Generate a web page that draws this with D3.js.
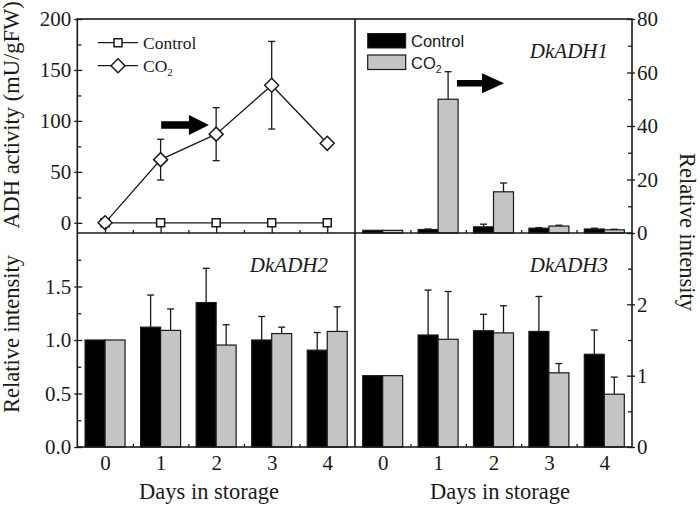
<!DOCTYPE html>
<html><head><meta charset="utf-8">
<script src="https://cdn.jsdelivr.net/npm/d3@7/dist/d3.min.js"></script>
<style>body{margin:0;background:#fff;} svg{display:block;}</style>
</head><body><svg id="c" width="700" height="507"></svg>
<script>
// ---------- data ----------
const days = [0, 1, 2, 3, 4];
const dayTicks = ["0", "1", "2", "3", "4"];
// ADH activity (mU/gFW)
const adhControl = [0, 0, 0, 0, 0];
const adhCO2 = [0, 62, 87, 135, 78];
const adhCO2Err = [0, 20, 26, 43, 2];
// DkADH1 relative intensity
const adh1Control = [1, 1.3, 2.3, 1.8, 1.5];
const adh1ControlErr = [0, 0.2, 1.0, 0.2, 0.3];
const adh1CO2 = [1, 50, 15.4, 2.6, 1.2];
const adh1CO2Err = [0, 10.3, 3.3, 0.3, 0.2];
// DkADH2 relative intensity
const adh2Control = [1, 1.12, 1.35, 1.0, 0.905];
const adh2ControlErr = [0, 0.30, 0.32, 0.22, 0.165];
const adh2CO2 = [1, 1.09, 0.953, 1.06, 1.08];
const adh2CO2Err = [0, 0.20, 0.19, 0.06, 0.23];
// DkADH3 relative intensity
const adh3Control = [1, 1.57, 1.63, 1.62, 1.30];
const adh3ControlErr = [0, 0.63, 0.23, 0.49, 0.34];
const adh3CO2 = [1, 1.51, 1.60, 1.04, 0.74];
const adh3CO2Err = [0, 0.67, 0.38, 0.13, 0.24];
// tick values
const ticksTL = [0, 50, 100, 150, 200];
const ticksTR = [0, 20, 40, 60, 80];
const ticksBL = [0, 0.5, 1.0, 1.5];
const ticksBR = [0, 1, 2];

// ---------- layout ----------
const L = 77.3, M = 355, R = 632, T = 19, MID = 233, B = 447;
const ink = "#1a1a1a";
const serif = "'Liberation Serif','Times New Roman',serif";
const sans = "'Liberation Sans',Arial,sans-serif";
const svg = d3.select("#c");

const xL = d3.scaleLinear().domain([-0.5, 4.5]).range([L, M]);
const xR = d3.scaleLinear().domain([-0.5, 4.5]).range([M, R]);
const yTL = d3.scaleLinear().domain([-10, 200]).range([MID, T]);
const yTR = d3.scaleLinear().domain([0, 80]).range([MID, T]);
const yBL = d3.scaleLinear().domain([0, 2]).range([B, MID]);
const yBR = d3.scaleLinear().domain([0, 3]).range([B, MID]);

const bw = (xL(1) - xL(0)) * 0.36;

function bars(x, y, ctrl, ctrlErr, co2, co2Err) {
  const g = svg.append("g");
  const series = [
    {vals: ctrl, errs: ctrlErr, off: -bw, fill: "#000"},
    {vals: co2, errs: co2Err, off: 0, fill: "#c4c4c4"}
  ];
  series.forEach(s => {
    g.selectAll(null).data(days).enter().append("rect")
      .attr("x", d => x(d) + s.off).attr("width", bw)
      .attr("y", (d, i) => y(s.vals[i]))
      .attr("height", (d, i) => y(0) - y(s.vals[i]))
      .attr("fill", s.fill).attr("stroke", ink).attr("stroke-width", 1.2);
    const e = days.filter((d, i) => s.errs[i] > 0);
    g.selectAll(null).data(e).enter().append("line")
      .attr("x1", d => x(d) + s.off + bw / 2).attr("x2", d => x(d) + s.off + bw / 2)
      .attr("y1", d => y(s.vals[d])).attr("y2", d => y(s.vals[d] + s.errs[d]))
      .attr("stroke", ink).attr("stroke-width", 1.3);
    g.selectAll(null).data(e).enter().append("line")
      .attr("x1", d => x(d) + s.off + bw / 2 - 3.5).attr("x2", d => x(d) + s.off + bw / 2 + 3.5)
      .attr("y1", d => y(s.vals[d] + s.errs[d])).attr("y2", d => y(s.vals[d] + s.errs[d]))
      .attr("stroke", ink).attr("stroke-width", 1.3);
  });
}

bars(xR, yTR, adh1Control, adh1ControlErr, adh1CO2, adh1CO2Err);
bars(xL, yBL, adh2Control, adh2ControlErr, adh2CO2, adh2CO2Err);
bars(xR, yBR, adh3Control, adh3ControlErr, adh3CO2, adh3CO2Err);

// ---------- top-left line chart ----------
const gl = svg.append("g");
const line = (vals) => d3.line().x((d, i) => xL(d)).y((d, i) => yTL(vals[i]))(days);
gl.append("path").attr("d", line(adhControl)).attr("fill", "none").attr("stroke", ink).attr("stroke-width", 1.3);
gl.append("path").attr("d", line(adhCO2)).attr("fill", "none").attr("stroke", ink).attr("stroke-width", 1.3);
// error bars
days.forEach((d, i) => {
  const e = adhCO2Err[i];
  if (e <= 0) return;
  const cx = xL(d);
  gl.append("line").attr("x1", cx).attr("x2", cx)
    .attr("y1", yTL(adhCO2[i] - e)).attr("y2", yTL(adhCO2[i] + e))
    .attr("stroke", ink).attr("stroke-width", 1.3);
  [adhCO2[i] - e, adhCO2[i] + e].forEach(v => {
    gl.append("line").attr("x1", cx - 3.5).attr("x2", cx + 3.5)
      .attr("y1", yTL(v)).attr("y2", yTL(v)).attr("stroke", ink).attr("stroke-width", 1.3);
  });
});
const sq = d3.symbol().type(d3.symbolSquare).size(64);
const dia = (s) => `M0,${-s}L${s},0L0,${s}L${-s},0Z`;
gl.selectAll(null).data(days).enter().append("path")
  .attr("d", sq).attr("transform", (d, i) => `translate(${xL(d)},${yTL(adhControl[i])})`)
  .attr("fill", "#fff").attr("stroke", ink).attr("stroke-width", 1.5);
gl.selectAll(null).data(days).enter().append("path")
  .attr("d", dia(7)).attr("transform", (d, i) => `translate(${xL(d)},${yTL(adhCO2[i])})`)
  .attr("fill", "#fff").attr("stroke", ink).attr("stroke-width", 1.5);

// ---------- frame ----------
const frame = svg.append("g").attr("stroke", ink).attr("stroke-width", 1.6).attr("fill", "none");
frame.append("rect").attr("x", L).attr("y", T).attr("width", R - L).attr("height", B - T);
frame.append("line").attr("x1", M).attr("x2", M).attr("y1", T).attr("y2", B);
frame.append("line").attr("x1", L).attr("x2", R).attr("y1", MID).attr("y2", MID);

// ---------- axes ----------
function styleAxis(g) {
  g.select(".domain").remove();
  g.selectAll("line").attr("stroke", ink).attr("stroke-width", 1.3);
  g.selectAll("text").attr("font-family", serif).attr("font-size", 21).attr("fill", ink);
}
function leftAxis(y, major, minor, fmt) {
  const g = svg.append("g").attr("transform", `translate(${L},0)`)
    .call(d3.axisLeft(y).tickValues(major).tickFormat(fmt).tickSizeInner(-5).tickSizeOuter(0).tickPadding(6));
  g.selectAll(".tick line").attr("x1", -3);
  styleAxis(g);
  const m = svg.append("g").attr("transform", `translate(${L},0)`)
    .call(d3.axisLeft(y).tickValues(minor).tickFormat("").tickSizeInner(-4).tickSizeOuter(0));
  styleAxis(m);
}
function rightAxis(y, major, minor, fmt) {
  const g = svg.append("g").attr("transform", `translate(${R},0)`)
    .call(d3.axisRight(y).tickValues(major).tickFormat(fmt).tickSizeInner(-5).tickSizeOuter(0).tickPadding(5));
  g.selectAll(".tick line").attr("x1", 3);
  styleAxis(g);
  const m = svg.append("g").attr("transform", `translate(${R},0)`)
    .call(d3.axisRight(y).tickValues(minor).tickFormat("").tickSizeInner(-4).tickSizeOuter(0));
  styleAxis(m);
}
function bottomAxis(x, yPos, labels, majorLen) {
  const g = svg.append("g").attr("transform", `translate(0,${yPos})`)
    .call(d3.axisBottom(x).tickValues(days).tickFormat((d, i) => labels ? labels[i] : "")
      .tickSizeInner(-majorLen).tickSizeOuter(0));
  styleAxis(g);
  g.selectAll("text").attr("y", 23).attr("dy", 0);
  const m = svg.append("g").attr("transform", `translate(0,${yPos})`)
    .call(d3.axisBottom(x).tickValues([0.5, 1.5, 2.5, 3.5]).tickFormat("").tickSizeInner(-3).tickSizeOuter(0));
  styleAxis(m);
}
leftAxis(yTL, ticksTL, [25, 75, 125, 175], d3.format("d"));
leftAxis(yBL, ticksBL, [0.25, 0.75, 1.25, 1.75], d3.format(".1f"));
rightAxis(yTR, ticksTR, [10, 30, 50, 70], d3.format("d"));
rightAxis(yBR, ticksBR, [0.5, 1.5, 2.5], d3.format("d"));
bottomAxis(xL, MID, null, 6);
bottomAxis(xR, MID, null, 0);
bottomAxis(xL, B, dayTicks, 0);
bottomAxis(xR, B, dayTicks, 0);

// ---------- labels ----------
const txt = (x, y, s, size, opts = {}) => svg.append("text").attr("x", x).attr("y", y)
  .attr("font-family", opts.family || serif).attr("font-size", size).attr("fill", ink)
  .attr("text-anchor", opts.anchor || "start").attr("font-style", opts.style || "normal")
  .attr("transform", opts.transform || null).text(s);

svg.append("text").attr("transform", "translate(19,115) rotate(-90)").attr("text-anchor", "middle")
  .attr("font-family", serif).attr("font-size", 22.5).attr("fill", ink).text("ADH activity (mU/gFW)");
svg.append("text").attr("transform", "translate(19,334) rotate(-90)").attr("text-anchor", "middle")
  .attr("font-family", serif).attr("font-size", 22.5).attr("fill", ink).text("Relative intensity");
svg.append("text").attr("transform", "translate(680,232) rotate(90)").attr("text-anchor", "middle")
  .attr("font-family", serif).attr("font-size", 22.5).attr("fill", ink).text("Relative intensity");
txt(209, 499, "Days in storage", 22.5, {anchor: "middle"});
txt(500, 499, "Days in storage", 22.5, {anchor: "middle"});
txt(608, 58, "DkADH1", 21, {anchor: "end", style: "italic"});
txt(328, 272, "DkADH2", 21, {anchor: "end", style: "italic"});
txt(608, 272, "DkADH3", 21, {anchor: "end", style: "italic"});

// ---------- legends ----------
const lg = svg.append("g");
[[42.7, "sq"], [65.7, "dia"]].forEach(([yy, k]) => {
  lg.append("line").attr("x1", 97.7).attr("x2", 138).attr("y1", yy).attr("y2", yy).attr("stroke", ink).attr("stroke-width", 1.3);
  lg.append("path").attr("d", k === "sq" ? sq() : dia(7)).attr("transform", `translate(118,${yy})`)
    .attr("fill", "#fff").attr("stroke", ink).attr("stroke-width", 1.5);
});
txt(143, 48.5, "Control", 17.5);
const co2a = txt(143, 71.5, "CO", 17.5);
co2a.append("tspan").attr("font-size", 11).attr("dy", 4).text("2");

lg.append("rect").attr("x", 367.7).attr("y", 33.5).attr("width", 38).attr("height", 14.5).attr("fill", "#000").attr("stroke", ink);
lg.append("rect").attr("x", 367.7).attr("y", 55).attr("width", 38).attr("height", 14.5).attr("fill", "#c4c4c4").attr("stroke", ink).attr("stroke-width", 1.2);
txt(411, 47, "Control", 16.5, {family: sans});
const co2b = txt(411, 68.5, "CO", 16.5, {family: sans});
co2b.append("tspan").attr("font-size", 10.5).attr("dy", 4).text("2");

// ---------- arrows ----------
function arrow(x0, x1, y, shaft, headL, headH) {
  const p = `M${x0},${y - shaft / 2}L${x1 - headL},${y - shaft / 2}L${x1 - headL},${y - headH / 2}L${x1},${y}` +
    `L${x1 - headL},${y + headH / 2}L${x1 - headL},${y + shaft / 2}L${x0},${y + shaft / 2}Z`;
  svg.append("path").attr("d", p).attr("fill", "#000");
}
arrow(xL(1.01), xL(1.87), yTL(96), 7.5, 20, 20);
arrow(xR(1.34), xR(2.19), yTR(56), 6.5, 22, 20);
</script></body></html>
